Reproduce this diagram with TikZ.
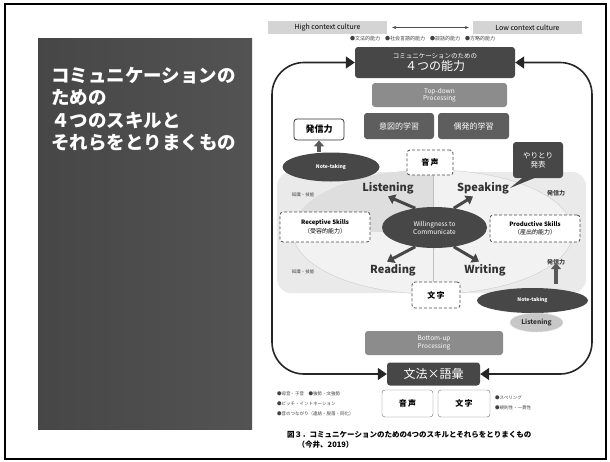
\documentclass[tikz,border=0pt]{standalone}
\usepackage{fontspec}
\setmainfont{Noto Sans CJK JP}
\usepackage{tikz}
\usetikzlibrary{arrows.meta,positioning,shapes.geometric}

\definecolor{panelgray}{HTML}{4A4A4A}
\definecolor{boxdark}{HTML}{474747}
\definecolor{boxmid}{HTML}{5E5E5E}
\definecolor{boxlight}{HTML}{8C8C8C}
\definecolor{bgpale}{HTML}{EAEAEA}

\tikzset{
  darkbox/.style={rounded corners=3pt, fill=boxdark, text=white, align=center, inner sep=0pt},
  midbox/.style={rounded corners=3pt, fill=boxmid, text=white, align=center, inner sep=0pt, font=\fontsize{8}{9}\selectfont},
  procbox/.style={rounded corners=3pt, fill=boxlight, text=white, align=center, inner sep=0pt, font=\fontsize{6.5}{7.5}\selectfont},
  cultbox/.style={fill=black!17, inner sep=0pt, font=\fontsize{7}{8}\selectfont},
  dashbox/.style={rounded corners=3pt, draw=black!70, densely dashed, fill=white, align=center, inner sep=0pt, thick},
  skill/.style={font=\fontsize{11}{12}\selectfont\bfseries, text=black!80},
  darkoval/.style={ellipse, fill=boxdark, text=white, inner sep=0pt, align=center},
  tinytext/.style={font=\fontsize{4.5}{5.5}\selectfont, text=black!75, inner sep=0pt},
  looparrow/.style={draw=black!85, line width=1.6pt, {Triangle[length=9pt,width=12pt]}-{Triangle[length=9pt,width=12pt]}},
  fatarrow/.style={draw=boxdark, line width=3pt, -{Triangle[length=7pt,width=10pt]}},
  uparrow/.style={draw=black!65, line width=3.5pt, -{Triangle[length=6pt,width=10pt]}}
}

\begin{document}
\begin{tikzpicture}[x=1pt,y=-1pt]
  \useasboundingbox (0,0) rectangle (610,461);
  % slide frame
  \fill[white] (0,0) rectangle (610,461);
  \draw[line width=2pt] (5,4) rectangle (606,459);
  % title panel
  \shade[left color=panelgray!95!black, right color=panelgray!95!white] (38,38) rectangle (252,429);
  \node[anchor=north west, text=white, align=left, inner sep=0pt,
        font=\fontsize{18.5}{22.5}\selectfont\bfseries] (title) at (51,67)
    {コミュニケーションの\\ための\\ ４つのスキルと\\それらをとりまくもの};

  % culture scale
  \node[cultbox, minimum width=119, minimum height=13] (high) at (327.5,27.5) {High context culture};
  \node[cultbox, minimum width=109, minimum height=13] (low) at (527.5,27.5) {Low context culture};
  \draw[{Stealth[length=4pt]}-{Stealth[length=4pt]}, black!70] ([xshift=5]high.east) -- ([xshift=-4]low.west);
  \node[tinytext, anchor=west, font=\fontsize{5}{6}\selectfont] (abil) at (350,39)
    {●文法的能力\quad ●社会言語的能力\quad ●談話的能力\quad ●方略的能力};

  % background and big ellipse
  \fill[bgpale, rounded corners=14pt] (277,172) rectangle (586,293);
  \fill[white!95!black, draw=black!20] (433,232) ellipse [x radius=140, y radius=62];
  \begin{scope}
    \clip (433,232) ellipse [x radius=140, y radius=62];
    \fill[black!13] (293,170) rectangle (433,232);
  \end{scope}
  \draw[black!25] (433,170) -- (433,294);

  % top and bottom boxes with the loop
  \node[darkbox, minimum width=160, minimum height=31, font=\fontsize{6.5}{12}\selectfont] (noryoku) at (435,62.5)
    {コミュニケーションのための\\{\fontsize{12}{12}\selectfont ４つの能力}};
  \node[darkbox, minimum width=93, minimum height=23, font=\fontsize{12}{13}\selectfont] (bunpo) at (433.5,374) {文法×語彙};
  \draw[looparrow, rounded corners=32pt] (noryoku.west) -| (272,230) |- (bunpo.west);
  \draw[looparrow, rounded corners=32pt] (noryoku.east) -| (592,230) |- (bunpo.east);

  \node[procbox, minimum width=135, minimum height=24] (topdown) at (439.5,95) {Top-down\\Processing};
  \node[midbox, minimum width=70, minimum height=26] (ito) at (399,126) {意図的学習};
  \node[midbox, minimum width=71, minimum height=26] (guhatsu) at (473.5,126) {偶発的学習};
  \node[procbox, minimum width=138, minimum height=24] (bottomup) at (434,343) {Bottom-up\\Processing};

  % left side: note-taking to 発信力
  \node[draw=black!80, thick, rounded corners=3pt, fill=white, minimum width=50, minimum height=21,
        inner sep=0pt, font=\fontsize{9}{10}\selectfont\bfseries] (hassinL) at (319,129.5) {発信力};
  \node[darkoval, minimum width=97, minimum height=29, font=\fontsize{5}{6}\selectfont\bfseries] (noteL) at (331,167) {Note-taking};
  \draw[uparrow] (noteL.north -| hassinL) -- (hassinL.south);

  % 音声 and speech bubble
  \node[dashbox, minimum width=46, minimum height=25, font=\fontsize{8}{9}\selectfont\bfseries] (onseiT) at (430,162.5) {音\,声};
  \node[darkbox, minimum width=50, minimum height=36, font=\fontsize{7.5}{9}\selectfont] (bubble) at (538,160) {やりとり\\発表};
  \fill[boxdark] ([xshift=-16]bubble.south) -- ([xshift=-4]bubble.south) -- (510,188) -- cycle;

  % the four skills
  \node[skill] (listen) at (388,188) {Listening};
  \node[skill] (speak) at (483,188) {Speaking};
  \node[skill] (read) at (393,270) {Reading};
  \node[skill] (write) at (485,270) {Writing};
  \node[darkoval, minimum width=105, minimum height=41, font=\fontsize{6.5}{8}\selectfont] (wtc) at (434.5,227.5)
    {Willingness to\\Communicate};
  \draw[fatarrow] (wtc.135) -- ([yshift=1]listen.south);
  \draw[fatarrow] (wtc.45) -- ([xshift=-10,yshift=1]speak.south);
  \draw[fatarrow] (wtc.225) -- ([xshift=-6,yshift=-1]read.north);
  \draw[fatarrow] (wtc.315) -- ([xshift=-6,yshift=-1]write.north);

  \node[dashbox, minimum width=90, minimum height=30, font=\fontsize{6}{8.5}\selectfont\bfseries] (recept) at (325,227)
    {Receptive Skills\\{\mdseries （受容的能力）}};
  \node[dashbox, minimum width=90, minimum height=27, font=\fontsize{6}{8.5}\selectfont\bfseries] (product) at (535,228.5)
    {Productive Skills\\{\mdseries （産出的能力）}};
  \node[tinytext] (chishikiA) at (303,195) {知識・技能};
  \node[tinytext] (chishikiB) at (303,272) {知識・技能};
  \node[tinytext, font=\fontsize{6}{7}\selectfont\bfseries] (hassinA) at (556,193) {発信力};
  \node[tinytext, font=\fontsize{6}{7}\selectfont\bfseries] (hassinB) at (556,262) {発信力};
  \node[dashbox, minimum width=48, minimum height=26, font=\fontsize{8}{9}\selectfont\bfseries] (mojiT) at (436,295) {文\,字};

  % right side: listening, note-taking, 発信力
  \node[darkoval, minimum width=111, minimum height=25, font=\fontsize{5}{6}\selectfont\bfseries] (noteR) at (532.5,300.5) {Note-taking};
  \draw[uparrow] ([yshift=4]noteR.north -| hassinB) -- ([yshift=2]hassinB.south);
  \node[ellipse, fill=black!22, draw=black!10, minimum width=53, minimum height=19, inner sep=0pt,
        font=\fontsize{6.5}{7}\selectfont\bfseries, text=black!80] (listenR) at (536.5,322.5) {Listening};

  % bottom: sound and letters
  \node[draw=black!55, rounded corners=3pt, minimum width=51, minimum height=27, inner sep=0pt,
        font=\fontsize{8}{9}\selectfont\bfseries] (onseiB) at (407.5,403.5) {音\,声};
  \node[draw=black!55, rounded corners=3pt, minimum width=52, minimum height=27, inner sep=0pt,
        font=\fontsize{8}{9}\selectfont\bfseries] (mojiB) at (464,403.5) {文\,字};
  \node[tinytext, anchor=west, align=left, font=\fontsize{4.5}{10}\selectfont] (soundlist) at (277,404)
    {●母音・子音\quad ●強勢・文強勢\\●ピッチ・イントネーション\\●音のつながり（連結・脱落・同化）};
  \node[tinytext, anchor=west, align=left, font=\fontsize{4.5}{10}\selectfont] (letterlist) at (495,403)
    {●スペリング\\●規則性・一貫性};

  % caption
  \node[anchor=west, inner sep=0pt, font=\fontsize{7.5}{10}\selectfont\bfseries, align=left] (caption) at (287,440)
    {図３．コミュニケーションのための4つのスキルとそれらをとりまくもの\\\hspace{1.4em}（今井、2019）};
\end{tikzpicture}
\end{document}
